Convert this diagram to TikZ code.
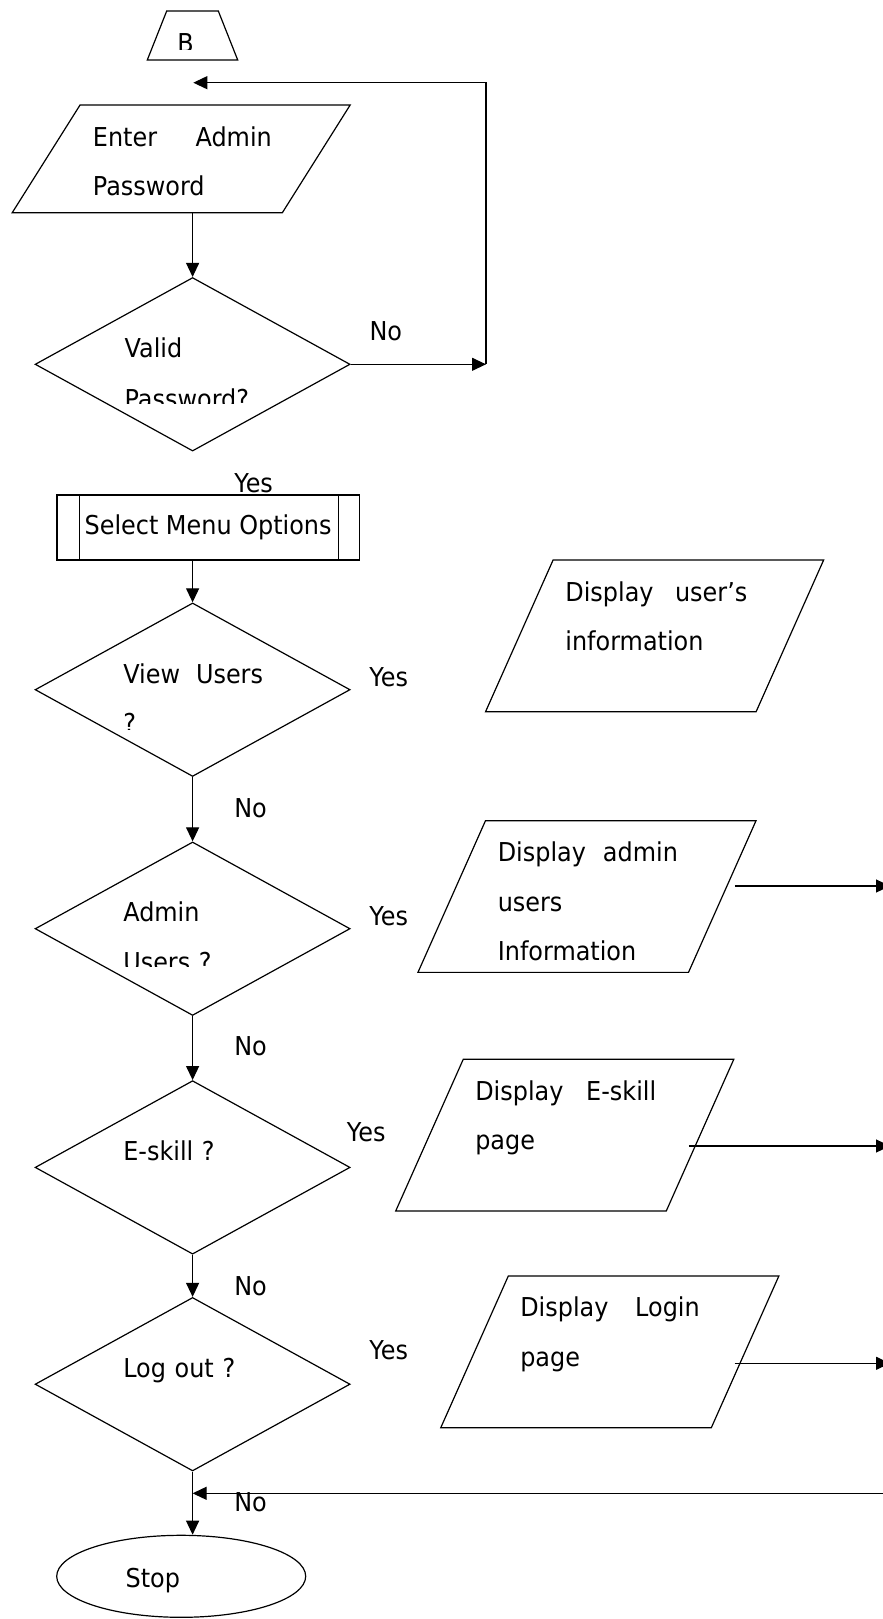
\documentclass[tikz,border=0pt]{standalone}
\usepackage{fontspec}
\setmainfont{DejaVu Sans}[FakeStretch=0.92]
\usetikzlibrary{shapes.geometric, arrows.meta}
\tikzset{decision/.style={diamond, draw, minimum width=315pt, minimum height=173.5pt, inner sep=1pt},
  io/.style={trapezium, draw, trapezium left angle=66, trapezium right angle=114, inner xsep=101.5pt, inner ysep=75.85pt},
  txt/.style={anchor=base west, inner sep=0pt, text width=340pt, align=left},
  arr/.style={-{Triangle[length=14pt,width=13pt]}}}

\begin{document}
\begin{tikzpicture}[x=1pt, y=-1pt, line width=1.2pt, font=\fontsize{26pt}{49.5pt}\selectfont]
  \useasboundingbox (0,0) rectangle (883,1619);

  \node[trapezium, draw, trapezium stretches=true, trapezium left angle=69.4, trapezium right angle=69.4, minimum width=90.4pt, minimum height=49pt, inner sep=1pt] (conn) at (192.5,35.5) {};
  \begin{scope}
    \clip (150,11) rectangle (237,50);
    \node[txt] (connt) at (176.7,52.3) {B};
  \end{scope}

  \node[io, trapezium left angle=57.8, trapezium right angle=122.2, inner xsep=101.15pt, inner ysep=53.85pt] (inp) at (181.2,158.85) {};
  \node[txt] (inpt) at (92.3,146) {Enter\hspace{38.5pt}Admin\\Password};

  \node[decision] (valid) at (192.6,364.3) {};
  \begin{scope}
    \clip (100,320) rectangle (330,403.5);
    \node[txt, font=\fontsize{26pt}{51pt}\selectfont] (validt) at (124,357.3) {Valid\\Password?};
  \end{scope}
  \node[txt] (nov) at (369,340) {No};
  \coordinate (loopr) at (486,364.3);
  \coordinate (looptip) at (193.3,82.7);
  \draw[arr] (valid.north |- inp.south) -- (valid.north);
  \draw[arr] (valid.east) -- (loopr);
  \draw[arr] (loopr) |- (looptip);

  \node[txt] (yesv) at (233.7,492) {Yes};
  \node[draw, minimum width=302.4pt, minimum height=65pt, inner sep=0pt] (menu) at (208.1,527.5) {Select Menu Options};
  \draw ([xshift=23pt]menu.north west) -- ([xshift=23pt]menu.south west);
  \draw ([xshift=-21.4pt]menu.north east) -- ([xshift=-21.4pt]menu.south east);

  \node[decision] (vusr) at (192.6,689.7) {};
  \begin{scope}
    \clip (100,640) rectangle (330,729);
    \node[txt] (vusrt) at (122.7,683.3) {View\hspace{16pt}Users\\?};
  \end{scope}
  \node[txt] (yesu) at (368.8,686.7) {Yes};
  \node[io] (dusr) at (654.6,635.85) {};
  \node[txt] (dusrt) at (564.8,601) {Display\hspace{21.5pt}user’s\\information};

  \node[txt] (nou) at (233.7,817.7) {No};
  \node[decision] (adm) at (192.6,928.7) {};
  \begin{scope}
    \clip (100,880) rectangle (330,966.7);
    \node[txt] (admt) at (122.7,921.7) {Admin\\Users ?};
  \end{scope}
  \node[txt] (yesa) at (368.8,925) {Yes};
  \node[io] (dadm) at (587,896.5) {};
  \node[txt] (dadmt) at (497.2,861.7) {Display\hspace{17pt}admin\\users\\Information};

  \node[txt] (noa) at (233.7,1055.7) {No};
  \node[decision] (esk) at (192.6,1167.4) {};
  \node[txt] (eskt) at (122.7,1160) {E-skill ?};
  \node[txt] (yese) at (346.3,1141.7) {Yes};
  \node[io] (desk) at (564.75,1135.15) {};
  \node[txt] (deskt) at (474.7,1100) {Display\hspace{22.7pt}E-skill\\page};

  \node[txt] (noe) at (233.7,1295) {No};
  \node[decision] (lgo) at (192.6,1384.2) {};
  \node[txt] (lgot) at (122.7,1377.3) {Log out ?};
  \node[txt] (yesl) at (368.8,1359) {Yes};
  \node[io] (dlog) at (609.8,1351.85) {};
  \node[txt] (dlogt) at (519.7,1316.7) {Display\hspace{26.7pt}Login\\page};

  \node[txt] (nol) at (233.7,1511.7) {No};
  \node[draw, ellipse, minimum width=249pt, minimum height=82pt, inner sep=0pt] (stop) at (181.2,1576.3) {};
  \node[txt] (stopt) at (125,1587.3) {Stop};

  \draw[arr] (vusr.north |- menu.south) -- (vusr.north);
  \draw[arr] (vusr.south) -- (adm.north);
  \draw[arr] (adm.south) -- (esk.north);
  \draw[arr] (esk.south) -- (lgo.north);
  \draw[arr] (lgo.south) -- (lgo.south |- stop.north);

  \coordinate (edge) at (890,0);
  \coordinate (s1) at ([shift={(12pt,10.5pt)}]dadm.right side);
  \coordinate (s2) at ([shift={(-11.8pt,-10.85pt)}]desk.right side);
  \coordinate (s3) at ([shift={(-11.2pt,-11.45pt)}]dlog.right side);
  \coordinate (ret) at (890,1493.3);
  \draw[arr] (s1) -- (s1 -| edge);
  \draw[arr] (s2) -- (s2 -| edge);
  \draw[arr] (s3) -- (s3 -| edge);
  \draw[arr] (ret) -- (ret -| lgo.south);
\end{tikzpicture}
\end{document}
